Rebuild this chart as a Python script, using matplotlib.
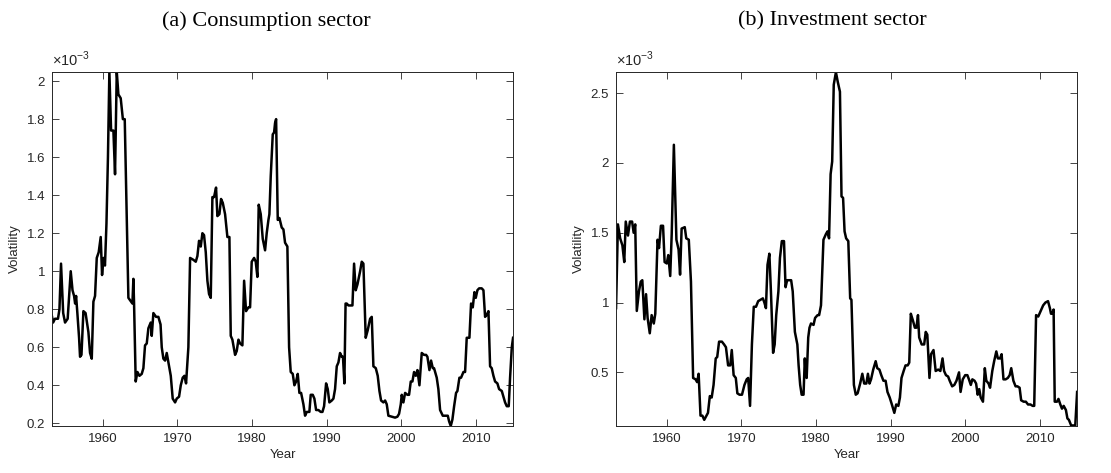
import matplotlib
matplotlib.use("Agg")
import matplotlib.pyplot as plt

# volatility, in units of 1e-3
cons_year = [1953.16, 1953.35, 1953.6, 1954.0, 1954.2, 1954.41, 1954.7, 1954.95, 1955.3, 1955.71,
             1955.95, 1956.16, 1956.3, 1956.43, 1956.6, 1956.83, 1956.96, 1957.15, 1957.41, 1957.7,
             1958.08, 1958.3, 1958.53, 1958.75, 1958.97, 1959.2, 1959.46, 1959.73, 1959.91, 1960.1,
             1960.3, 1960.5, 1960.7, 1960.89, 1961.12, 1961.43, 1961.65, 1961.88, 1962.1, 1962.41,
             1962.7, 1962.95, 1963.44, 1963.8, 1963.98, 1964.11, 1964.2, 1964.42, 1964.65, 1964.92,
             1965.23, 1965.45, 1965.67, 1965.9, 1966.12, 1966.43, 1966.57, 1966.79, 1967.15, 1967.46,
             1967.75, 1967.91, 1968.13, 1968.36, 1968.58, 1968.8, 1969.12, 1969.38, 1969.7, 1969.92,
             1970.23, 1970.46, 1970.72, 1970.95, 1971.17, 1971.48, 1971.71, 1972.15, 1972.47, 1972.69,
             1972.91, 1973.14, 1973.36, 1973.58, 1973.81, 1974.03, 1974.25, 1974.48, 1974.7, 1974.92,
             1975.19, 1975.37, 1975.64, 1975.86, 1976.09, 1976.4, 1976.71, 1976.98, 1977.16, 1977.38,
             1977.74, 1977.96, 1978.19, 1978.41, 1978.72, 1978.95, 1979.21, 1979.53, 1979.75, 1979.97,
             1980.29, 1980.51, 1980.73, 1980.91, 1981.18, 1981.45, 1981.76, 1981.98, 1982.21, 1982.34,
             1982.52, 1982.79, 1982.97, 1983.1, 1983.24, 1983.46, 1983.68, 1983.99, 1984.22, 1984.44,
             1984.75, 1984.98, 1985.2, 1985.47, 1985.69, 1985.92, 1986.14, 1986.36, 1986.59, 1986.9,
             1987.12, 1987.35, 1987.7, 1987.88, 1988.15, 1988.37, 1988.6, 1988.91, 1989.22, 1989.45,
             1989.67, 1989.94, 1990.16, 1990.38, 1990.7, 1990.92, 1991.14, 1991.37, 1991.59, 1991.81,
             1992.04, 1992.2, 1992.39, 1992.55, 1992.71, 1992.93, 1993.47, 1993.69, 1993.91, 1994.14,
             1994.5, 1994.72, 1994.94, 1995.25, 1995.52, 1995.84, 1996.06, 1996.28, 1996.6, 1996.86,
             1997.09, 1997.31, 1997.62, 1997.85, 1998.07, 1998.29, 1998.74, 1999.19, 1999.5, 1999.72,
             1999.95, 2000.08, 2000.3, 2000.53, 2000.84, 2001.06, 2001.29, 2001.51, 2001.73, 2001.96,
             2002.18, 2002.45, 2002.76, 2003.07, 2003.34, 2003.52, 2003.79, 2004.01, 2004.24, 2004.41,
             2004.77, 2004.99, 2005.22, 2005.58, 2005.98, 2006.25, 2006.43, 2006.65, 2006.87, 2007.1,
             2007.36, 2007.54, 2007.81, 2008.03, 2008.35, 2008.57, 2008.79, 2009.15, 2009.37, 2009.6,
             2009.82, 2010.0, 2010.22, 2010.45, 2010.8, 2011.03, 2011.25, 2011.47, 2011.7, 2011.92,
             2012.14, 2012.37, 2012.59, 2012.9, 2013.13, 2013.49, 2013.71, 2013.93, 2014.16, 2014.42,
             2014.6, 2014.83, 2015.0]
cons_vol = [0.77, 0.73, 0.75, 0.75, 0.80, 1.04, 0.78, 0.73, 0.75, 1.00,
            0.90, 0.87, 0.83, 0.87, 0.78, 0.65, 0.55, 0.56, 0.79, 0.78,
            0.68, 0.57, 0.54, 0.84, 0.87, 1.07, 1.10, 1.18, 0.98, 1.07,
            1.03, 1.25, 1.60, 2.05, 1.74, 1.74, 1.51, 2.05, 1.93, 1.91,
            1.80, 1.80, 0.86, 0.84, 0.83, 0.96, 0.83, 0.42, 0.47, 0.45,
            0.46, 0.49, 0.61, 0.62, 0.70, 0.73, 0.66, 0.78, 0.76, 0.76,
            0.72, 0.60, 0.54, 0.53, 0.57, 0.52, 0.45, 0.33, 0.31, 0.33,
            0.34, 0.40, 0.44, 0.45, 0.41, 0.60, 1.07, 1.06, 1.05, 1.08,
            1.16, 1.13, 1.20, 1.19, 1.10, 0.95, 0.88, 0.86, 1.39, 1.39,
            1.44, 1.29, 1.30, 1.38, 1.36, 1.30, 1.18, 1.18, 0.66, 0.64,
            0.56, 0.58, 0.64, 0.62, 0.61, 0.95, 0.79, 0.81, 0.81, 1.05,
            1.07, 1.05, 0.97, 1.35, 1.30, 1.17, 1.11, 1.20, 1.27, 1.30,
            1.50, 1.72, 1.73, 1.78, 1.80, 1.27, 1.28, 1.23, 1.22, 1.15,
            1.13, 0.60, 0.47, 0.46, 0.40, 0.42, 0.46, 0.36, 0.36, 0.30,
            0.24, 0.26, 0.26, 0.35, 0.35, 0.33, 0.27, 0.27, 0.26, 0.26,
            0.29, 0.41, 0.38, 0.31, 0.32, 0.33, 0.38, 0.50, 0.52, 0.57,
            0.55, 0.55, 0.41, 0.83, 0.83, 0.82, 0.82, 1.04, 0.90, 0.93,
            1.00, 1.05, 1.04, 0.65, 0.69, 0.75, 0.76, 0.50, 0.49, 0.45,
            0.37, 0.32, 0.31, 0.32, 0.30, 0.24, 0.235, 0.23, 0.235, 0.25,
            0.30, 0.35, 0.31, 0.36, 0.35, 0.35, 0.42, 0.42, 0.47, 0.45,
            0.48, 0.40, 0.57, 0.56, 0.56, 0.55, 0.48, 0.53, 0.49, 0.49,
            0.44, 0.38, 0.27, 0.24, 0.24, 0.24, 0.21, 0.186, 0.22, 0.29,
            0.36, 0.37, 0.44, 0.44, 0.47, 0.47, 0.65, 0.65, 0.83, 0.81,
            0.89, 0.86, 0.90, 0.91, 0.91, 0.90, 0.76, 0.77, 0.79, 0.50,
            0.49, 0.45, 0.42, 0.41, 0.38, 0.37, 0.34, 0.31, 0.29, 0.29,
            0.44, 0.60, 0.65]

inv_year = [1953.2, 1953.45, 1953.75, 1954.05, 1954.3, 1954.5, 1954.8, 1955.06, 1955.35, 1955.56,
            1955.77, 1955.98, 1956.27, 1956.51, 1956.72, 1957.0, 1957.22, 1957.43, 1957.72, 1957.97,
            1958.26, 1958.46, 1958.76, 1958.96, 1959.21, 1959.5, 1959.71, 1960.0, 1960.2, 1960.46,
            1960.66, 1960.95, 1961.29, 1961.58, 1961.78, 1961.99, 1962.41, 1962.61, 1962.95, 1963.24,
            1963.53, 1963.86, 1964.07, 1964.27, 1964.52, 1964.77, 1965.02, 1965.31, 1965.52, 1965.77,
            1966.02, 1966.27, 1966.56, 1966.76, 1967.01, 1967.39, 1967.68, 1967.93, 1968.22, 1968.51,
            1968.71, 1968.96, 1969.25, 1969.46, 1969.75, 1970.08, 1970.41, 1970.71, 1970.91, 1971.16,
            1971.41, 1971.66, 1971.96, 1972.25, 1972.58, 1972.88, 1973.08, 1973.29, 1973.5, 1973.75,
            1973.96, 1974.25, 1974.46, 1974.67, 1974.96, 1975.17, 1975.42, 1975.71, 1975.92, 1976.13,
            1976.42, 1976.67, 1976.88, 1977.17, 1977.5, 1977.67, 1977.88, 1978.08, 1978.33, 1978.5,
            1978.63, 1978.75, 1978.96, 1979.13, 1979.33, 1979.67, 1979.88, 1980.21, 1980.42, 1980.67,
            1981.0, 1981.33, 1981.54, 1981.75, 1981.96, 1982.17, 1982.38, 1982.67, 1982.92, 1983.21,
            1983.42, 1983.63, 1983.83, 1984.04, 1984.33, 1984.58, 1984.75, 1985.08, 1985.33, 1985.58,
            1985.92, 1986.21, 1986.46, 1986.75, 1986.96, 1987.17, 1987.38, 1987.67, 1988.0, 1988.21,
            1988.5, 1988.75, 1989.04, 1989.33, 1989.58, 1989.88, 1990.17, 1990.5, 1990.75, 1991.04,
            1991.25, 1991.46, 1991.75, 1992.0, 1992.29, 1992.5, 1992.71, 1993.0, 1993.25, 1993.46,
            1993.67, 1993.83, 1994.17, 1994.5, 1994.71, 1994.92, 1995.21, 1995.42, 1995.75, 1996.04,
            1996.38, 1996.67, 1996.96, 1997.17, 1997.42, 1997.71, 1997.92, 1998.25, 1998.54, 1998.83,
            1999.17, 1999.38, 1999.67, 2000.0, 2000.29, 2000.5, 2000.75, 2000.96, 2001.25, 2001.46,
            2001.67, 2001.88, 2002.08, 2002.38, 2002.63, 2002.83, 2003.13, 2003.33, 2003.63, 2003.88,
            2004.17, 2004.38, 2004.67, 2004.88, 2005.13, 2005.42, 2005.71, 2005.96, 2006.17, 2006.46,
            2006.75, 2007.0, 2007.29, 2007.5, 2007.83, 2008.13, 2008.42, 2008.75, 2009.04, 2009.25,
            2009.5, 2009.79, 2010.2, 2010.45, 2010.75, 2011.1, 2011.35, 2011.5, 2011.7, 2011.85,
            2012.0, 2012.3, 2012.5, 2012.75, 2012.97, 2013.2, 2013.5, 2013.7, 2013.9, 2014.2,
            2014.5, 2014.75, 2015.0]
inv_vol = [0.96, 1.56, 1.46, 1.41, 1.29, 1.58, 1.48, 1.58, 1.58, 1.50,
           1.56, 0.94, 1.08, 1.15, 1.16, 0.88, 1.06, 0.89, 0.78, 0.91,
           0.85, 0.92, 1.45, 1.39, 1.55, 1.55, 1.29, 1.28, 1.34, 1.19,
           1.49, 2.13, 1.45, 1.38, 1.20, 1.53, 1.54, 1.46, 1.45, 1.15,
           0.46, 0.45, 0.43, 0.49, 0.19, 0.19, 0.16, 0.19, 0.21, 0.33,
           0.32, 0.41, 0.60, 0.61, 0.72, 0.72, 0.70, 0.68, 0.55, 0.55,
           0.66, 0.48, 0.46, 0.35, 0.34, 0.34, 0.41, 0.45, 0.46, 0.26,
           0.70, 0.97, 0.97, 1.01, 1.02, 1.03, 1.00, 0.96, 1.27, 1.35,
           1.08, 0.64, 0.70, 0.91, 1.08, 1.32, 1.44, 1.44, 1.11, 1.16,
           1.16, 1.16, 1.08, 0.79, 0.70, 0.55, 0.41, 0.34, 0.34, 0.60,
           0.48, 0.46, 0.75, 0.82, 0.85, 0.84, 0.89, 0.91, 0.91, 0.98,
           1.45, 1.49, 1.51, 1.46, 1.92, 2.01, 2.56, 2.65, 2.58, 2.51,
           1.76, 1.75, 1.51, 1.46, 1.44, 1.03, 1.02, 0.41, 0.34, 0.35,
           0.42, 0.49, 0.42, 0.42, 0.49, 0.42, 0.45, 0.52, 0.58, 0.53,
           0.52, 0.48, 0.44, 0.44, 0.36, 0.32, 0.27, 0.21, 0.27, 0.26,
           0.32, 0.46, 0.51, 0.55, 0.55, 0.57, 0.92, 0.87, 0.82, 0.82,
           0.91, 0.75, 0.70, 0.70, 0.79, 0.77, 0.46, 0.63, 0.66, 0.51,
           0.52, 0.51, 0.60, 0.51, 0.48, 0.47, 0.44, 0.40, 0.41, 0.44,
           0.50, 0.36, 0.45, 0.48, 0.48, 0.45, 0.41, 0.45, 0.44, 0.42,
           0.34, 0.38, 0.32, 0.29, 0.53, 0.44, 0.42, 0.39, 0.51, 0.58,
           0.65, 0.60, 0.60, 0.63, 0.45, 0.45, 0.46, 0.48, 0.53, 0.44,
           0.40, 0.40, 0.39, 0.30, 0.29, 0.29, 0.27, 0.27, 0.26, 0.26,
           0.91, 0.90, 0.95, 0.98, 1.00, 1.01, 0.96, 0.92, 0.92, 0.95,
           0.29, 0.29, 0.31, 0.27, 0.24, 0.26, 0.23, 0.17, 0.16, 0.12,
           0.12, 0.116, 0.36]

cons_ticks = [0.2, 0.4, 0.6, 0.8, 1, 1.2, 1.4, 1.6, 1.8, 2]
inv_ticks = [0.5, 1, 1.5, 2, 2.5]
year_ticks = [1960, 1970, 1980, 1990, 2000, 2010]

plt.rcParams["font.family"] = ["Liberation Sans", "DejaVu Sans"]
plt.rcParams["mathtext.fontset"] = "custom"
plt.rcParams["mathtext.rm"] = "Liberation Sans"
gray = "#262626"

fig = plt.figure(figsize=(11.11, 4.73), dpi=100)
ax1 = fig.add_axes([0.0468, 0.0994, 0.415, 0.748])
ax2 = fig.add_axes([0.5545, 0.0994, 0.415, 0.748])

panels = [
    (ax1, cons_year, cons_vol, cons_ticks, (0.186, 2.047), "(a) Consumption sector", 0.2394),
    (ax2, inv_year, inv_vol, inv_ticks, (0.116, 2.65), "(b) Investment sector", 0.749),
]

for ax, x, y, yt, ylim, title, tx in panels:
    ax.plot(x, y, color="black", lw=1.8)
    ax.set_xlim(1953.2, 2015.0)
    ax.set_ylim(*ylim)
    ax.set_xticks(year_ticks)
    ax.set_yticks(yt)
    ax.set_yticklabels(["%g" % v for v in yt])
    ax.tick_params(direction="in", length=5, width=0.6, colors=gray,
                   labelsize=9.5, top=True, right=True, pad=5)
    for s in ax.spines.values():
        s.set_color(gray)
        s.set_linewidth(0.7)
    ax.set_xlabel("Year", fontsize=9.5, color=gray, labelpad=3)
    ax.set_ylabel("Volatility", fontsize=9.5, color=gray, labelpad=4)
    ax.text(0.0, 1.008, r"$\times10^{-3}$", transform=ax.transAxes,
            fontsize=10.5, color=gray, ha="left", va="bottom")
    fig.text(tx, 0.955, title, family="Liberation Serif", fontsize=16,
             ha="center", va="center", color="black")

fig.savefig("out.png", dpi=100)
